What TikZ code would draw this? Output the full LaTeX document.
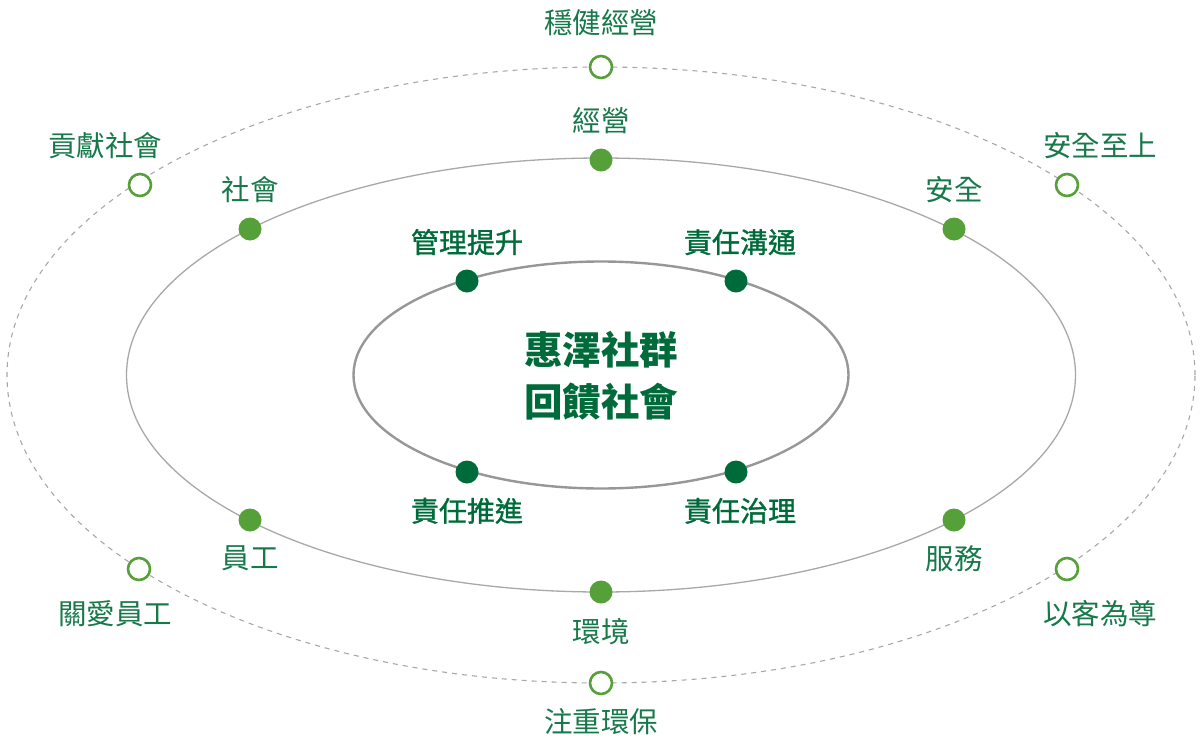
\documentclass[tikz,border=0pt]{standalone}
\usepackage{fontspec}
\setmainfont{Noto Sans CJK TC}
\newfontfamily\medfont[FakeBold=1.2]{Noto Sans CJK TC}
\usepackage{tikz}
\usetikzlibrary{positioning}

\definecolor{txtgreen}{HTML}{17794A}
\definecolor{darkgreen}{HTML}{006B3A}
\definecolor{midgreen}{HTML}{55A038}
\definecolor{ringgray}{HTML}{A8A8A8}

\tikzset{
    opendot/.style={circle,draw=midgreen,line width=2.6pt,fill=white,minimum size=22pt,inner sep=0pt},
    fulldot/.style={circle,fill=midgreen,minimum size=23pt,inner sep=0pt},
    innerdot/.style={circle,fill=darkgreen,minimum size=23pt,inner sep=0pt},
    lbl/.style={text=txtgreen,font=\fontsize{28.5}{32}\selectfont,inner sep=0pt},
    innerlbl/.style={lbl,text=darkgreen,font=\fontsize{28}{32}\selectfont\medfont}
}

\begin{document}
\begin{tikzpicture}[x=1pt,y=-1pt]
    \useasboundingbox (0,0) rectangle (1200,739);

    % the three rings
    \draw[ringgray,line width=1.1pt,dash pattern=on 5pt off 5pt] (601,375) ellipse [x radius=594pt,y radius=308pt];
    \draw[ringgray,line width=1.3pt] (601,375) ellipse [x radius=474.5pt,y radius=217pt];
    \draw[ringgray!90!black,line width=2.4pt] (601,375) ellipse [x radius=247.5pt,y radius=113.5pt];

    % the outer open circles
    \node[opendot] (o1) at (601,67) {};
    \node[opendot] (o2) at (140,185) {};
    \node[opendot] (o3) at (1067,185) {};
    \node[opendot] (o4) at (139,569) {};
    \node[opendot] (o5) at (1067,569) {};
    \node[opendot] (o6) at (601,683) {};

    \node[lbl,above=19pt of o1] {穩健經營};
    \node[lbl,above=14pt of o2,xshift=-35pt] {貢獻社會};
    \node[lbl,above=14pt of o3,xshift=33pt] {安全至上};
    \node[lbl,below=19pt of o4,xshift=-24pt] {關愛員工};
    \node[lbl,below=19pt of o5,xshift=33pt] {以客為尊};
    \node[lbl,below=13pt of o6] {注重環保};

    % the middle dots
    \node[fulldot] (m1) at (601,160) {};
    \node[fulldot] (m2) at (250,229) {};
    \node[fulldot] (m3) at (954,229) {};
    \node[fulldot] (m4) at (250,520) {};
    \node[fulldot] (m5) at (954,520) {};
    \node[fulldot] (m6) at (601,592) {};

    \node[lbl,above=14pt of m1] {經營};
    \node[lbl,above=14pt of m2] {社會};
    \node[lbl,above=14pt of m3] {安全};
    \node[lbl,below=14pt of m4] {員工};
    \node[lbl,below=14pt of m5] {服務};
    \node[lbl,below=14pt of m6] {環境};

    % the inner dots
    \node[innerdot] (i1) at (467,281) {};
    \node[innerdot] (i2) at (736,281) {};
    \node[innerdot] (i3) at (467,472) {};
    \node[innerdot] (i4) at (736,472) {};

    \node[innerlbl,above=14pt of i1] {管理提升};
    \node[innerlbl,above=14pt of i2,xshift=4pt] {責任溝通};
    \node[innerlbl,below=14pt of i3] {責任推進};
    \node[innerlbl,below=14pt of i4,xshift=4pt] {責任治理};

    % the centre text
    \node[text=darkgreen,font=\fontsize{38.5}{52}\selectfont\bfseries,align=center] (mid) at (601,376) {惠澤社群\\回饋社會};
\end{tikzpicture}
\end{document}
